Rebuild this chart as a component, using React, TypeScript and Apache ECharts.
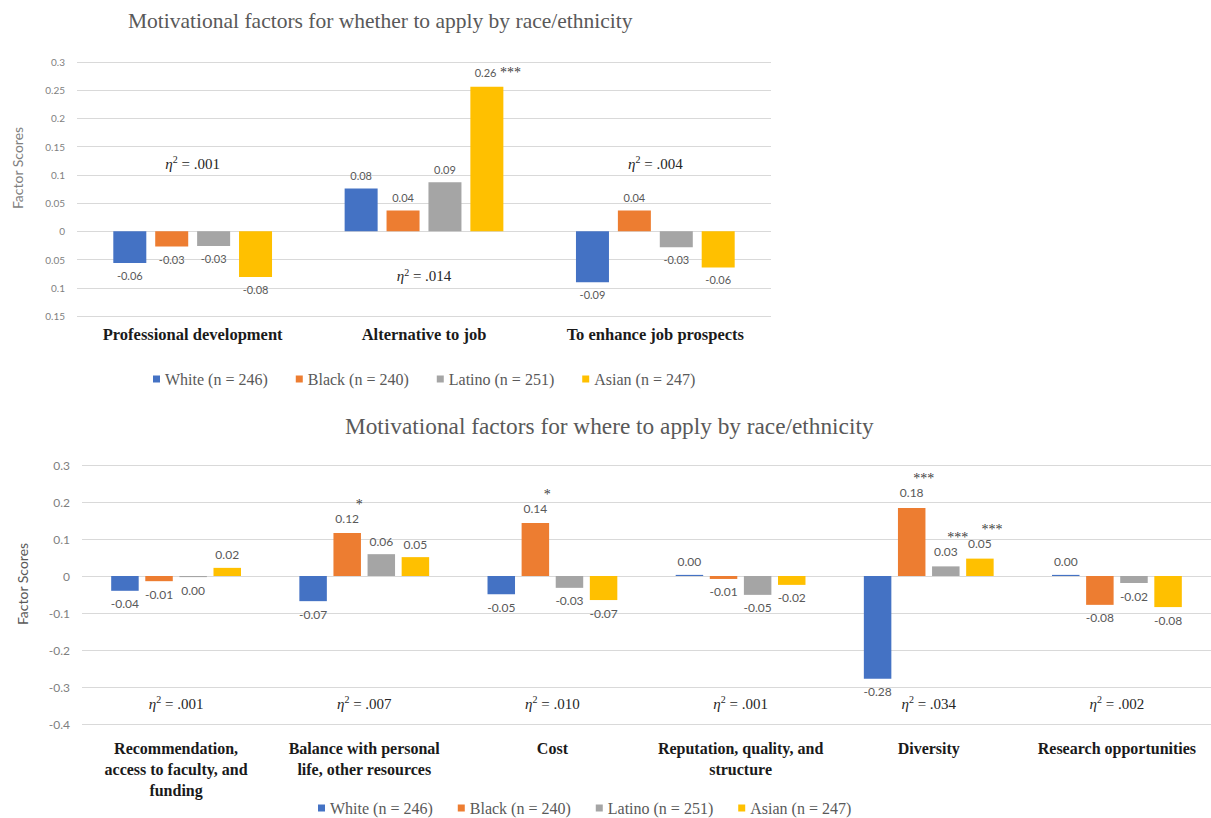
import React, { useEffect, useRef } from "react";
import * as echarts from "echarts";

const SERIF = "'Liberation Serif', 'Times New Roman', serif";
const SANS = "Lato, 'Open Sans', sans-serif";

const seriesNames = ["White (n = 246)", "Black (n = 240)", "Latino (n = 251)", "Asian (n = 247)"];
const colors = ["#4472C4", "#ED7D31", "#A5A5A5", "#FFC000"];

// Top chart: whether to apply
const topTitle = "Motivational factors for whether to apply by race/ethnicity";
const topCategories = ["Professional development", "Alternative to job", "To enhance job prospects"];
const topWhite = [-0.056, 0.076, -0.09];
const topBlack = [-0.027, 0.037, 0.037];
const topLatino = [-0.026, 0.087, -0.028];
const topAsian = [-0.081, 0.256, -0.064];
const topSigWhite = ["", "", ""];
const topSigBlack = ["", "", ""];
const topSigLatino = ["", "", ""];
const topSigAsian = ["", "***", ""];
const topEta = [".001", ".014", ".004"];
const topEtaY = [0.12, -0.08, 0.12];

// Bottom chart: where to apply
const botTitle = "Motivational factors for where to apply by race/ethnicity";
const botCategories = [
  "Recommendation,\naccess to faculty, and\nfunding",
  "Balance with personal\nlife, other resources",
  "Cost",
  "Reputation, quality, and\nstructure",
  "Diversity",
  "Research opportunities",
];
const botWhite = [-0.04, -0.068, -0.049, 0.003, -0.278, 0.003];
const botBlack = [-0.014, 0.116, 0.143, -0.008, 0.184, -0.078];
const botLatino = [-0.003, 0.059, -0.032, -0.051, 0.026, -0.019];
const botAsian = [0.022, 0.051, -0.065, -0.024, 0.047, -0.084];
const botSigWhite = ["", "", "", "", "", ""];
const botSigBlack = ["", "*", "*", "", "***", ""];
const botSigLatino = ["", "", "", "", "***", ""];
const botSigAsian = ["", "", "", "", "***", ""];
const botEta = [".001", ".007", ".010", ".001", ".034", ".002"];
const botEtaY = [-0.345, -0.345, -0.345, -0.345, -0.345, -0.345];

const topValues = [topWhite, topBlack, topLatino, topAsian];
const topSigs = [topSigWhite, topSigBlack, topSigLatino, topSigAsian];
const botValues = [botWhite, botBlack, botLatino, botAsian];
const botSigs = [botSigWhite, botSigBlack, botSigLatino, botSigAsian];

function fmt(v: number): string {
  let s = v.toFixed(2);
  if (s === "-0.00") s = "0.00";
  return s;
}

function makeData(values: number[], sigs: string[], starsAbove: boolean, fs: number) {
  return values.map((v, i) => {
    const txt = fmt(v);
    const s = sigs[i];
    const label: any = { position: v >= 0 ? "top" : "bottom" };
    if (!s) {
      label.formatter = txt;
    } else if (starsAbove) {
      label.formatter = `{st|${s}}\n{v|${txt}}`;
      label.rich = {
        st: { fontSize: 14, color: "#404040", fontFamily: SERIF, align: "center", padding: [0, 0, 0, 24], lineHeight: 12 },
        v: { fontSize: fs, color: "#595959", fontFamily: SANS, align: "center", lineHeight: 16 },
      };
    } else {
      label.formatter = `{v|${txt}}{st| ${s}}`;
      label.offset = [11, 0];
      label.rich = {
        st: { fontSize: 14, color: "#404040", fontFamily: SERIF },
        v: { fontSize: fs, color: "#595959", fontFamily: SANS },
      };
    }
    return { value: v, label };
  });
}

function etaText(t: string, p: number[]) {
  return {
    type: "text",
    x: p[0],
    y: p[1],
    style: {
      text: `{e|η}{s|2}{t| = ${t}}`,
      align: "center",
      verticalAlign: "middle",
      rich: {
        e: { fontFamily: SERIF, fontStyle: "italic", fontSize: 15, fill: "#262626", lineHeight: 18 },
        s: { fontFamily: SERIF, fontSize: 10, fill: "#262626", verticalAlign: "top", lineHeight: 10 },
        t: { fontFamily: SERIF, fontSize: 15, fill: "#262626", lineHeight: 18 },
      },
    },
  };
}

export default function App() {
  const ref = useRef<HTMLDivElement>(null);
  useEffect(() => {
    if (!ref.current) return;
    const chart = echarts.init(ref.current, null, { renderer: "svg" });
    const legendBase = {
      data: seriesNames,
      icon: "rect",
      itemWidth: 7,
      itemHeight: 7,
      padding: 0,
      selectedMode: false,
      textStyle: { fontFamily: SERIF, fontSize: 16, color: "#595959" },
    };
    const series: any[] = [];
    seriesNames.forEach((name, k) => {
      series.push({
        type: "bar",
        name,
        xAxisIndex: 0,
        yAxisIndex: 0,
        barWidth: 33,
        barGap: "27%",
        itemStyle: { color: colors[k] },
        label: { show: true, distance: 7, fontSize: 11, fontFamily: SANS, color: "#595959" },
        data: makeData(topValues[k], topSigs[k], false, 11),
      });
    });
    seriesNames.forEach((name, k) => {
      series.push({
        type: "bar",
        name,
        xAxisIndex: 1,
        yAxisIndex: 1,
        barWidth: 27.5,
        barGap: "24%",
        itemStyle: { color: colors[k] },
        label: { show: true, distance: 7, fontSize: 12, fontFamily: SANS, color: "#595959" },
        data: makeData(botValues[k], botSigs[k], true, 12),
      });
    });

    const option: any = {
      animation: false,
      backgroundColor: "#ffffff",
      title: [
        {
          text: topTitle,
          left: 128,
          top: 10,
          padding: 0,
          textStyle: { fontFamily: SERIF, fontSize: 21.5, fontWeight: "normal", color: "#595959" },
        },
        {
          text: botTitle,
          left: 345,
          top: 414,
          padding: 0,
          textStyle: { fontFamily: SERIF, fontSize: 23.3, fontWeight: "normal", color: "#595959" },
        },
      ],
      legend: [
        { ...legendBase, left: 153, top: 371, itemGap: 28 },
        { ...legendBase, left: 318, top: 800, itemGap: 25 },
      ],
      grid: [
        { left: 77, top: 62, width: 694, height: 254 },
        { left: 82, top: 465, width: 1129, height: 259 },
      ],
      xAxis: [
        {
          type: "category",
          gridIndex: 0,
          data: topCategories,
          axisLine: { show: false, onZero: false },
          axisTick: { show: false },
          axisLabel: { interval: 0, margin: 10, fontFamily: SERIF, fontWeight: "bold", fontSize: 16.5, color: "#1a1a1a" },
        },
        {
          type: "category",
          gridIndex: 1,
          data: botCategories,
          axisLine: { show: false, onZero: false },
          axisTick: { show: false },
          axisLabel: {
            interval: 0,
            margin: 14,
            lineHeight: 21,
            fontFamily: SERIF,
            fontWeight: "bold",
            fontSize: 16,
            color: "#1a1a1a",
          },
        },
      ],
      yAxis: [
        {
          type: "value",
          gridIndex: 0,
          min: -0.15,
          max: 0.3,
          interval: 0.05,
          axisLine: { show: false },
          axisTick: { show: false },
          splitLine: { lineStyle: { color: "#d9d9d9", width: 1 } },
          axisLabel: {
            margin: 12,
            fontFamily: SANS,
            fontSize: 10,
            color: "#7f7f7f",
            formatter: (v: number) => String(parseFloat(Math.abs(v).toFixed(2))),
          },
        },
        {
          type: "value",
          gridIndex: 1,
          min: -0.4,
          max: 0.3,
          interval: 0.1,
          axisLine: { show: false },
          axisTick: { show: false },
          splitLine: { lineStyle: { color: "#d9d9d9", width: 1 } },
          axisLabel: {
            margin: 12,
            fontFamily: SANS,
            fontSize: 12,
            color: "#7f7f7f",
            formatter: (v: number) => String(parseFloat(v.toFixed(1))),
          },
        },
      ],
      series,
    };
    chart.setOption(option);

    const graphics: any[] = [];
    topEta.forEach((t, i) => {
      const p = chart.convertToPixel({ xAxisIndex: 0, yAxisIndex: 0 } as any, [i, topEtaY[i]]) as number[];
      graphics.push(etaText(t, p));
    });
    botEta.forEach((t, i) => {
      const p = chart.convertToPixel({ xAxisIndex: 1, yAxisIndex: 1 } as any, [i, botEtaY[i]]) as number[];
      graphics.push(etaText(t, p));
    });
    graphics.push({
      type: "text",
      x: 17,
      y: 168,
      rotation: Math.PI / 2,
      style: { text: "Factor Scores", align: "center", verticalAlign: "middle", fontFamily: SANS, fontSize: 14, fill: "#7f7f7f" },
    });
    graphics.push({
      type: "text",
      x: 22,
      y: 584,
      rotation: Math.PI / 2,
      style: { text: "Factor Scores", align: "center", verticalAlign: "middle", fontFamily: SANS, fontSize: 14, fill: "#595959" },
    });
    chart.setOption({ graphic: graphics });

    return () => {
      chart.dispose();
    };
  }, []);

  return (
    <div
      ref={ref}
      style={{ position: "absolute", left: 0, top: 0, width: 1211, height: 818, background: "#fff" }}
    />
  );
}
